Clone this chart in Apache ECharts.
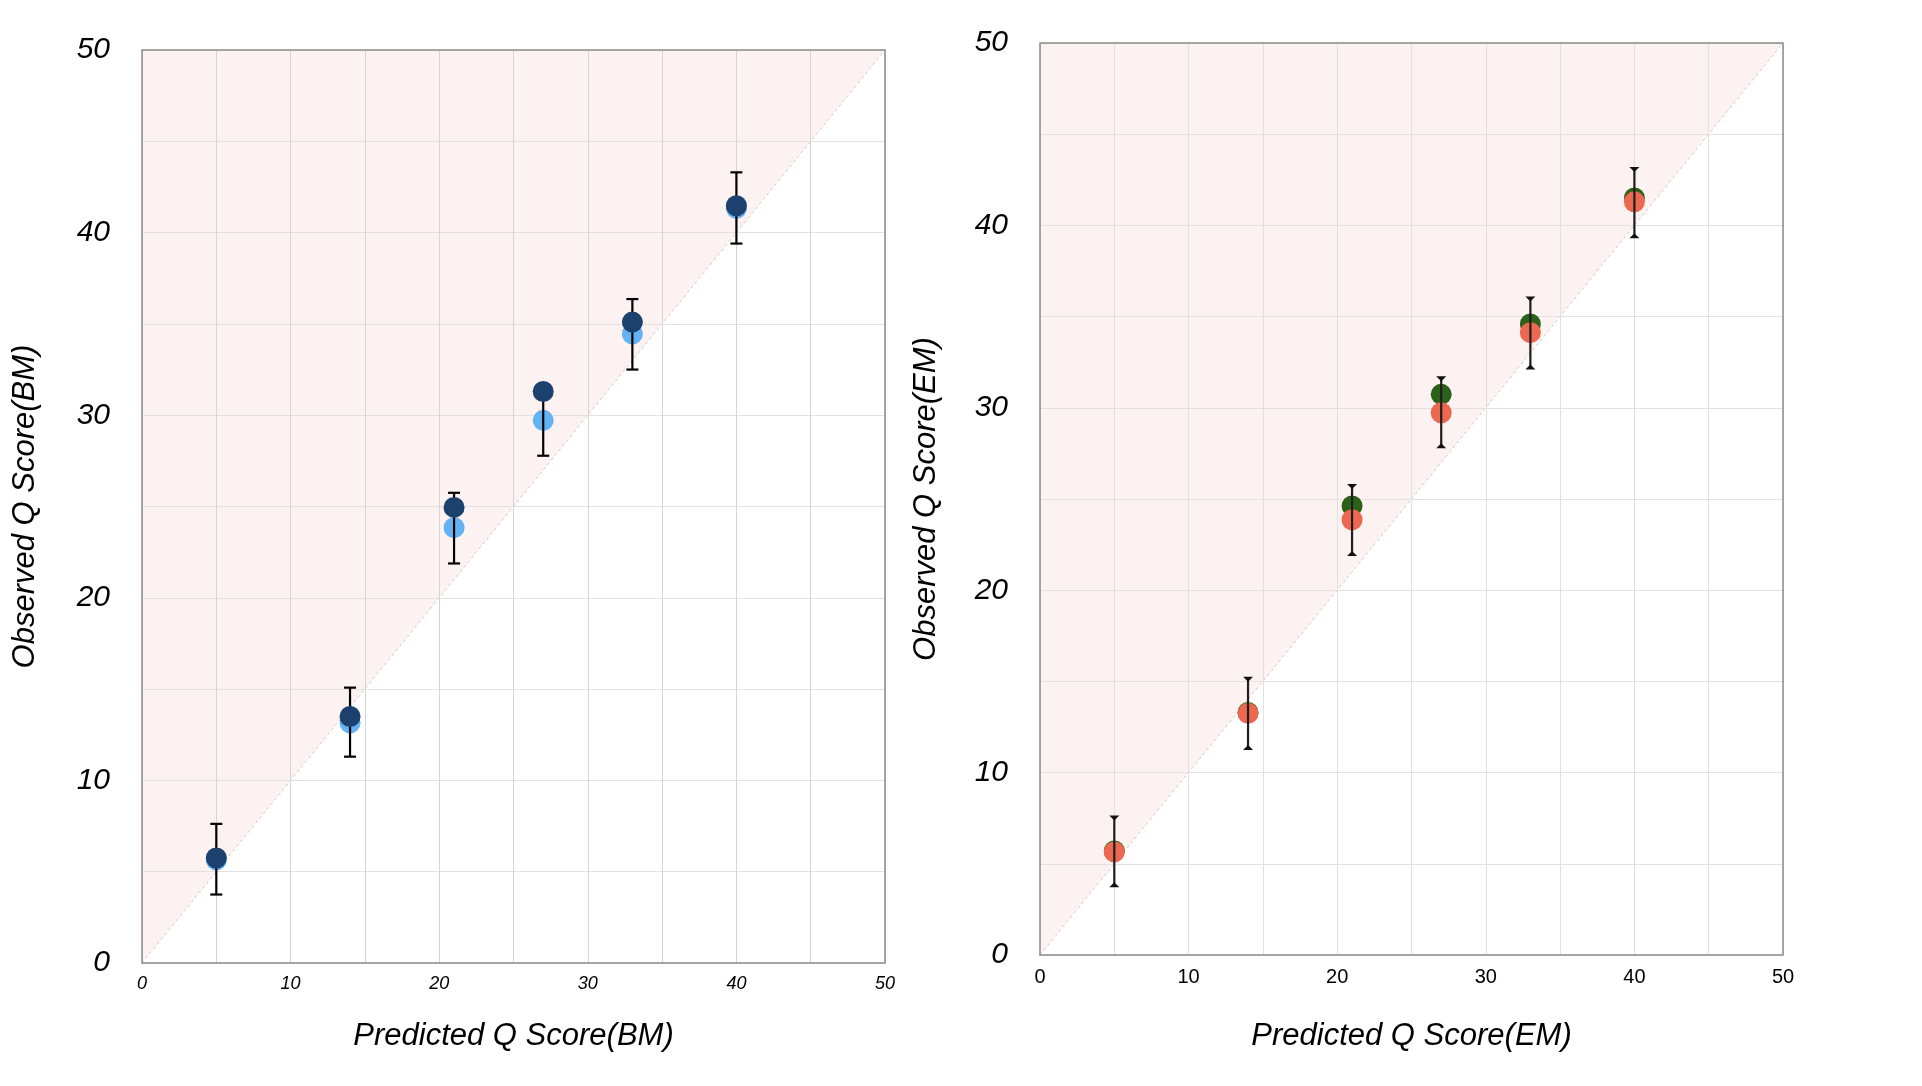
<!DOCTYPE html>
<html>
<head>
<meta charset="utf-8">
<script src="https://cdn.jsdelivr.net/npm/echarts@6/dist/echarts.min.js"></script>
<style>
html,body{margin:0;padding:0;background:#fff;}
#c{width:1922px;height:1086px;}
</style>
</head>
<body>
<div id="c"></div>
<script>
// ---- data ----
const predicted = [5, 14, 21, 27, 33, 40];
const bmDark = [5.75, 13.5, 24.95, 31.3, 35.1, 41.47];
const bmLight = [5.65, 13.15, 23.84, 29.72, 34.45, 41.33];
const bmErrLow = [3.75, 11.3, 21.88, 27.78, 32.5, 39.4];
const bmErrHigh = [7.62, 15.08, 25.75, 31.66, 36.36, 43.3];
const emGreen = [5.7, 13.3, 24.62, 30.74, 34.6, 41.5];
const emRed = [5.65, 13.25, 23.86, 29.73, 34.12, 41.29];
const emErrLow = [3.77, 11.3, 21.93, 27.84, 32.15, 39.35];
const emErrHigh = [7.6, 15.2, 25.77, 31.68, 36.05, 43.15];
const diagonal = [[0, 0], [50, 50]];
const axisTicks = [0, 10, 20, 30, 40, 50];

const pts = (ys) => predicted.map((x, i) => [x, ys[i]]);
const errs = (lo, hi) => predicted.map((x, i) => [x, lo[i], hi[i]]);

const FONT = '"Liberation Sans", Arial, Helvetica, sans-serif';

function errRender(capStyle) {
  return function (params, api) {
    const x = api.value(0), lo = api.value(1), hi = api.value(2);
    const pt = api.coord([x, hi]);
    const pb = api.coord([x, lo]);
    const st = { stroke: capStyle === 'tri' ? '#1e1e1e' : '#000', lineWidth: 2.2 };
    const children = [
      { type: 'line', shape: { x1: pt[0], y1: pt[1], x2: pb[0], y2: pb[1] }, style: st }
    ];
    if (capStyle === 'tri') {
      const w = 5, h = 4;
      children.push({ type: 'polygon', shape: { points: [[pt[0] - w, pt[1] - 1], [pt[0] + w, pt[1] - 1], [pt[0], pt[1] + h]] }, style: { fill: '#111' } });
      children.push({ type: 'polygon', shape: { points: [[pb[0] - w, pb[1] + 1], [pb[0] + w, pb[1] + 1], [pb[0], pb[1] - h]] }, style: { fill: '#111' } });
    } else {
      const w = 6;
      children.push({ type: 'line', shape: { x1: pt[0] - w, y1: pt[1], x2: pt[0] + w, y2: pt[1] }, style: st });
      children.push({ type: 'line', shape: { x1: pb[0] - w, y1: pb[1], x2: pb[0] + w, y2: pb[1] }, style: st });
    }
    return { type: 'group', children };
  };
}

function xAxisCfg(gridIndex, name, italic, size, gap) {
  return {
    type: 'value', gridIndex, min: 0, max: 50, interval: 5,
    name, nameLocation: 'middle', nameGap: gap,
    nameTextStyle: { fontFamily: FONT, fontStyle: 'italic', fontSize: 31, color: '#000' },
    axisLine: { show: false }, axisTick: { show: false },
    axisLabel: {
      margin: 12, fontFamily: FONT, fontStyle: italic ? 'italic' : 'normal', fontSize: size, color: '#000',
      formatter: (v) => axisTicks.indexOf(v) >= 0 ? String(v) : ''
    },
    splitLine: { show: true, lineStyle: { color: gridIndex === 0 ? '#d4d4d4' : '#e0e0e0', width: 1 } }
  };
}
function yAxisCfg(gridIndex, name, gap) {
  return {
    type: 'value', gridIndex, min: 0, max: 50, interval: 5,
    name, nameLocation: 'middle', nameGap: gap,
    nameTextStyle: { fontFamily: FONT, fontStyle: 'italic', fontSize: 31, color: '#000' },
    axisLine: { show: false }, axisTick: { show: false },
    axisLabel: {
      margin: 32, fontFamily: FONT, fontStyle: 'italic', fontSize: 30, color: '#000',
      formatter: (v) => axisTicks.indexOf(v) >= 0 ? String(v) : ''
    },
    splitLine: { show: true, lineStyle: { color: '#e2e2e2', width: 1 } }
  };
}

function diagSeries(idx) {
  return {
    type: 'line', xAxisIndex: idx, yAxisIndex: idx, data: diagonal,
    symbol: 'none', silent: true, z: -1,
    lineStyle: { color: '#d6c6c6', width: 1, type: [3, 3] },
    areaStyle: { origin: 'end', color: '#fcf2f1', opacity: 1 }
  };
}

const chart = echarts.init(document.getElementById('c'), null, { renderer: 'canvas' });
chart.setOption({
  animation: false,
  backgroundColor: '#fff',
  grid: [
    { left: 142, top: 50, width: 743, height: 913, show: true, borderColor: '#8c8c8c', borderWidth: 1.5, backgroundColor: 'transparent', z: 10 },
    { left: 1040, top: 43, width: 743, height: 912, show: true, borderColor: '#8c8c8c', borderWidth: 1.5, backgroundColor: 'transparent', z: 10 }
  ],
  xAxis: [
    xAxisCfg(0, 'Predicted Q Score(BM)', true, 18, 58),
    xAxisCfg(1, 'Predicted Q Score(EM)', false, 20, 66)
  ],
  yAxis: [
    yAxisCfg(0, 'Observed Q Score(BM)', 101),
    yAxisCfg(1, 'Observed Q Score(EM)', 98)
  ],
  series: [
    diagSeries(0),
    diagSeries(1),
    { type: 'scatter', xAxisIndex: 0, yAxisIndex: 0, data: pts(bmLight), symbolSize: 21, itemStyle: { color: '#63b3f4', opacity: 1 }, z: 3 },
    { type: 'custom', xAxisIndex: 0, yAxisIndex: 0, data: errs(bmErrLow, bmErrHigh), renderItem: errRender('flat'), encode: { x: 0, y: [1, 2] }, z: 4 },
    { type: 'scatter', xAxisIndex: 0, yAxisIndex: 0, data: pts(bmDark), symbolSize: 21, itemStyle: { color: '#1c416f', opacity: 1 }, z: 5 },
    { type: 'scatter', xAxisIndex: 1, yAxisIndex: 1, data: pts(emGreen), symbolSize: 21, itemStyle: { color: '#2b6119', opacity: 1 }, z: 3 },
    { type: 'scatter', xAxisIndex: 1, yAxisIndex: 1, data: pts(emRed), symbolSize: 21, itemStyle: { color: '#ed6850', opacity: 1 }, z: 4 },
    { type: 'custom', xAxisIndex: 1, yAxisIndex: 1, data: errs(emErrLow, emErrHigh), renderItem: errRender('tri'), encode: { x: 0, y: [1, 2] }, z: 5 }
  ]
});
</script>
</body>
</html>
